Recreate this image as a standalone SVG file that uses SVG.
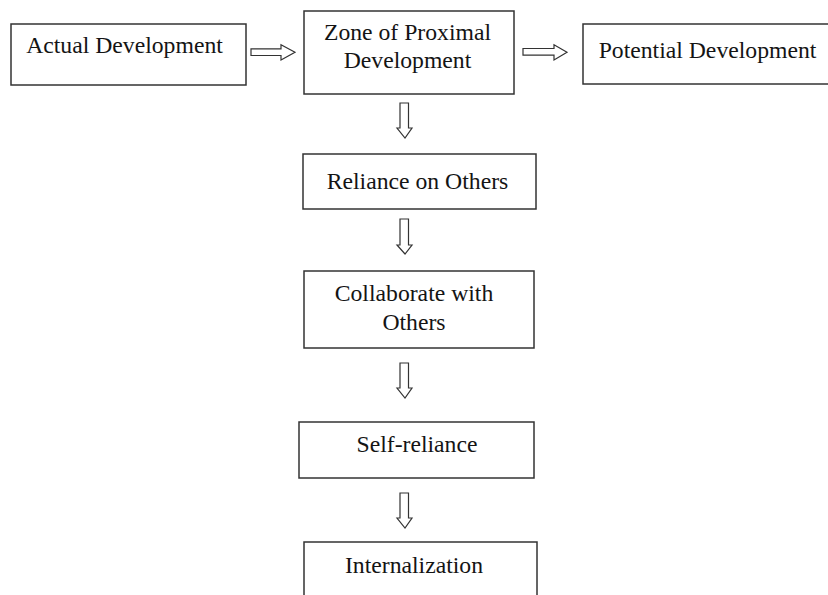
<svg xmlns="http://www.w3.org/2000/svg" width="828" height="595" viewBox="0 0 828 595">
  <style>
    .box { fill: #ffffff; stroke: #333333; stroke-width: 1.5; }
    .label { font-family: "Liberation Serif", "Times New Roman", serif; font-size: 23.7px; fill: #141414; text-anchor: middle; }
    .arrow { fill: #ffffff; stroke: #333333; stroke-width: 1.2; stroke-linejoin: miter; }
  </style>
  <rect width="828" height="595" fill="#ffffff"/>

  <g id="actual-development">
    <rect class="box" x="11" y="24" width="235" height="61"/>
    <text class="label" x="124.5" y="53">Actual Development</text>
  </g>

  <g id="zone-of-proximal-development">
    <rect class="box" x="304" y="11" width="210" height="83"/>
    <text class="label" x="407.5" y="39.5">Zone of Proximal</text>
    <text class="label" x="407.5" y="68">Development</text>
  </g>

  <g id="potential-development">
    <rect class="box" x="583" y="24" width="260" height="60"/>
    <text class="label" x="707.5" y="58">Potential Development</text>
  </g>

  <g id="reliance-on-others">
    <rect class="box" x="303" y="154" width="233" height="55"/>
    <text class="label" x="417.5" y="189">Reliance on Others</text>
  </g>

  <g id="collaborate-with-others">
    <rect class="box" x="304" y="271" width="230" height="77"/>
    <text class="label" x="414" y="301">Collaborate with</text>
    <text class="label" x="414" y="330">Others</text>
  </g>

  <g id="self-reliance">
    <rect class="box" x="299" y="422" width="235" height="56"/>
    <text class="label" x="417" y="452">Self-reliance</text>
  </g>

  <g id="internalization">
    <rect class="box" x="304" y="542" width="233" height="70"/>
    <text class="label" x="414" y="573">Internalization</text>
  </g>

  <g id="connectors">
    <path class="arrow" d="M251,48.8 H281 V44.8 L295,52.3 L281,60 V55.5 H251 Z"/>
    <path class="arrow" d="M523,48.5 H554 V44.8 L567,52.2 L554,60 V55.2 H523 Z"/>
    <path class="arrow" d="M400,103 H408.5 V128 H412 L405,138 L397,128 H400 Z"/>
    <path class="arrow" d="M400,219 H408.5 V245 H412 L405,254 L397,245 H400 Z"/>
    <path class="arrow" d="M400,363 H408.5 V388 H412 L405,398 L397,388 H400 Z"/>
    <path class="arrow" d="M400,493 H408.5 V518 H412 L405,528 L397,518 H400 Z"/>
  </g>
</svg>
